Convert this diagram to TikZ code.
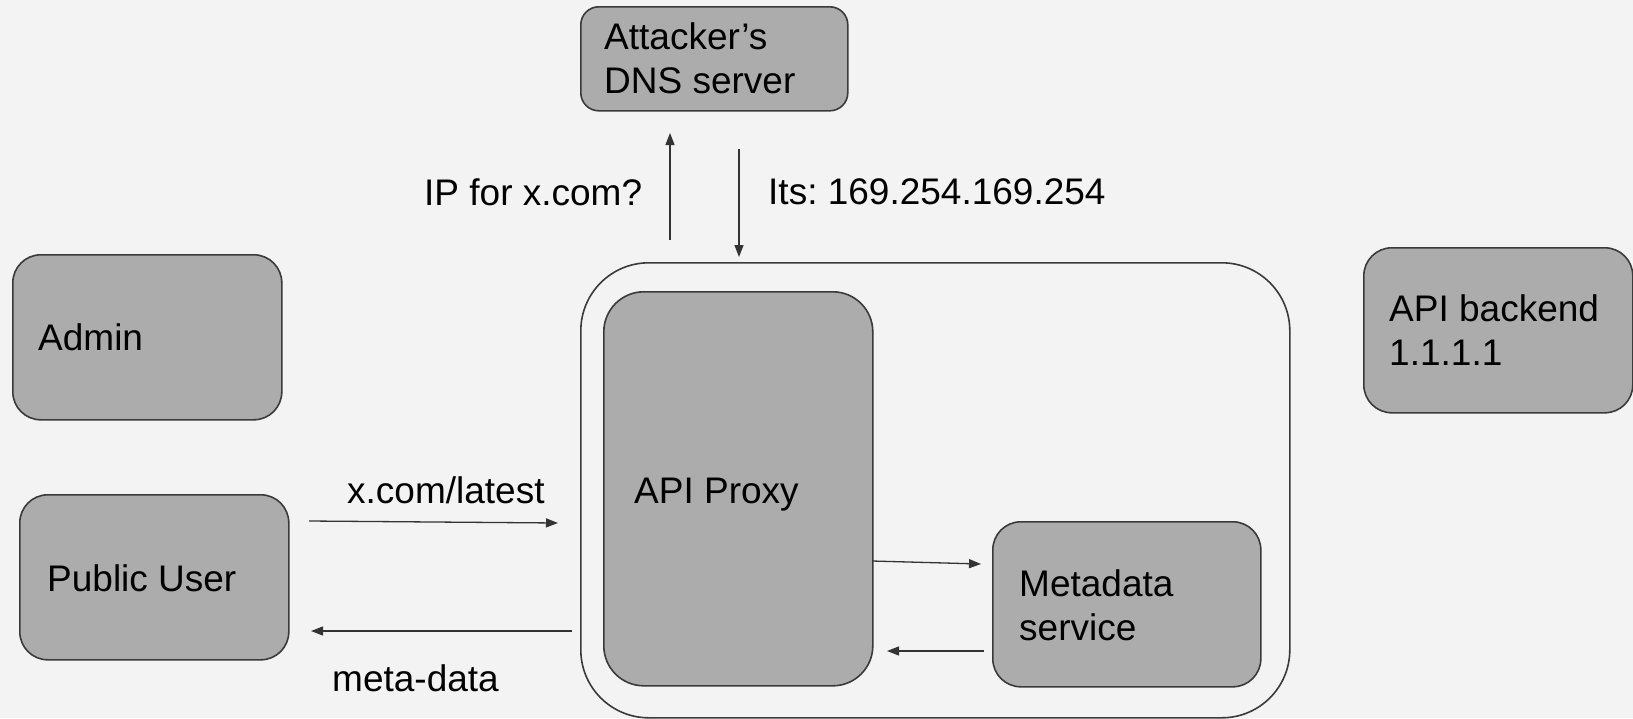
\documentclass[tikz,border=0pt]{standalone}
\usepackage{fontspec}
\setmainfont{Liberation Sans}
\usetikzlibrary{arrows.meta}
\definecolor{bg}{HTML}{F3F3F3}
\definecolor{boxfill}{HTML}{ACACAC}
\definecolor{edge}{HTML}{3A3A3A}
\definecolor{wire}{HTML}{333333}
\frenchspacing
\tikzset{
  box/.style={draw=edge, line width=1.6pt, fill=boxfill, rectangle, inner sep=0pt, anchor=north west},
  frame/.style={draw=edge, line width=1.6pt, rectangle, inner sep=0pt, anchor=north west},
  txt/.style={anchor=base west, inner sep=0pt, font=\fontsize{37}{44}\selectfont, text=black},
  flow/.style={draw=wire, line width=1.3pt, -{Triangle[length=12pt,width=9pt]}}
}
\newcommand{\twolines}[2]{\begin{tabular}[t]{@{}l@{}}#1\\#2\end{tabular}}
\begin{document}
\begin{tikzpicture}[x=1pt,y=-1pt]
  % canvas
  \fill[bg] (0,0) rectangle (1633,718);
  \useasboundingbox (0,0) rectangle (1633,718);

  % boxes
  \node[box, minimum width=267pt, minimum height=104pt, rounded corners=18pt] (dns) at (580,6) {};
  \node[box, minimum width=269pt, minimum height=165pt, rounded corners=28pt] (admin) at (12,254) {};
  \node[box, minimum width=269pt, minimum height=165pt, rounded corners=28pt] (pub) at (19,494) {};
  \node[frame, minimum width=709pt, minimum height=455pt, rounded corners=68pt] (cloud) at (580,262) {};
  \node[box, minimum width=269pt, minimum height=394pt, rounded corners=40pt] (proxy) at (603,291) {};
  \node[box, minimum width=268pt, minimum height=165pt, rounded corners=28pt] (meta) at (992,521) {};
  \node[box, minimum width=269pt, minimum height=165pt, rounded corners=28pt] (back) at (1363,247) {};

  % box texts
  \node[txt] (dnsT) at (604,49) {\twolines{Attacker’s}{DNS server}};
  \node[txt] (adminT) at (38,350) {Admin};
  \node[txt] (pubT) at (47,591) {Public User};
  \node[txt] (proxyT) at (634,503) {API Proxy};
  \node[txt] (metaT) at (1019,596) {\twolines{Metadata}{service}};
  \node[txt] (backT) at (1389,321) {\twolines{API backend}{1.1.1.1}};

  % connector labels
  \node[txt] (askT) at (424,205) {IP for x.com?};
  \node[txt] (replyT) at (768,204) {Its: 169.254.169.254};
  \node[txt] (reqT) at (347,503) {x.com/latest};
  \node[txt] (respT) at (332,691) {meta-data};

  % free ends of the connectors
  \coordinate (askA) at (670,240);
  \coordinate (askB) at (670,133);
  \coordinate (replyA) at (739,149);
  \coordinate (replyB) at (739,257);
  \coordinate (reqA) at (309,521);
  \coordinate (reqB) at (558,523);
  \coordinate (respA) at (572,631);
  \coordinate (respB) at (311,631);
  \coordinate (fwdA) at (872,561);
  \coordinate (fwdB) at (981,564);
  \coordinate (retA) at (984,651);
  \coordinate (retB) at (887,651);

  % connectors
  \draw[flow] (askA) -- (askB);
  \draw[flow] (replyA) -- (replyB);
  \draw[flow] (reqA) -- (reqB);
  \draw[flow] (respA) -- (respB);
  \draw[flow] (fwdA) -- (fwdB);
  \draw[flow] (retA) -- (retB);
\end{tikzpicture}
\end{document}
